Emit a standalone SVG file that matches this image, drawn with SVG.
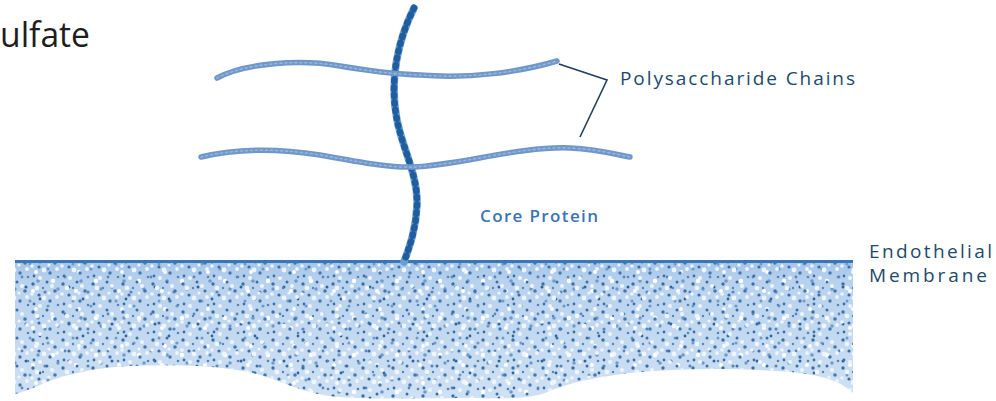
<svg xmlns="http://www.w3.org/2000/svg" width="996" height="401" viewBox="0 0 996 401">
  <style>
    .chain { fill: none; stroke: #7097c9; stroke-width: 5.5; stroke-linecap: round; stroke-linejoin: round; }
    .chain-hi { fill: none; stroke: #96b5dc; stroke-width: 1.6; stroke-dasharray: 2 3; stroke-linecap: round; }
    .label { font-family: "Open Sans", "Liberation Sans", sans-serif; fill: #1d4a6c; font-size: 19px; }
    .leader { fill: none; stroke: #22405c; stroke-width: 1.6; stroke-linejoin: miter; }
  </style>
  <defs>
    <!-- fine speckle of the membrane body -->
    <pattern id="speckA" patternUnits="userSpaceOnUse" width="30" height="28">
      <circle cx="7" cy="8" r="2.3" fill="#eef5fc"/>
      <circle cx="22" cy="6" r="2.0" fill="#eef5fc"/>
      <circle cx="14" cy="18" r="2.4" fill="#eef5fc"/>
      <circle cx="27" cy="17" r="1.9" fill="#eef5fc"/>
      <circle cx="2" cy="14" r="1.8" fill="#eef5fc"/>
      <circle cx="10" cy="26" r="2.0" fill="#eef5fc"/>
      <circle cx="19" cy="13" r="1.6" fill="#eef5fc"/>
      <circle cx="3" cy="4" r="1.7" fill="#3c6fa6"/>
      <circle cx="17" cy="2" r="1.5" fill="#3c6fa6"/>
      <circle cx="25" cy="11" r="1.8" fill="#4677ad"/>
      <circle cx="9" cy="15" r="1.6" fill="#3c6fa6"/>
      <circle cx="20" cy="21" r="1.7" fill="#4677ad"/>
      <circle cx="4" cy="24" r="1.4" fill="#3c6fa6"/>
      <circle cx="13" cy="8" r="1.2" fill="#5584b8"/>
      <circle cx="28" cy="25" r="1.3" fill="#5584b8"/>
    </pattern>
    <pattern id="speckB" patternUnits="userSpaceOnUse" width="43" height="37">
      <circle cx="5" cy="10" r="1.6" fill="#6f9bcb"/>
      <circle cx="15" cy="30" r="1.7" fill="#6f9bcb"/>
      <circle cx="30" cy="5" r="1.5" fill="#6f9bcb"/>
      <circle cx="38" cy="22" r="1.8" fill="#6f9bcb"/>
      <circle cx="22" cy="18" r="1.4" fill="#5a88bb"/>
      <circle cx="10" cy="22" r="2.2" fill="#ffffff"/>
      <circle cx="33" cy="32" r="2.0" fill="#ffffff"/>
      <circle cx="36" cy="13" r="1.9" fill="#ffffff"/>
      <circle cx="26" cy="28" r="1.5" fill="#2f639b"/>
      <circle cx="40" cy="3" r="1.4" fill="#2f639b"/>
      <circle cx="2" cy="33" r="1.6" fill="#5a88bb"/>
    </pattern>
    <linearGradient id="membraneFill" x1="0" y1="0" x2="0" y2="1">
      <stop offset="0" stop-color="#a6c5ea"/>
      <stop offset="0.15" stop-color="#b8d2ee"/>
      <stop offset="1" stop-color="#cfe1f3"/>
    </linearGradient>
    <path id="membraneShape" d="M15,262 L853,262 L853,393 C840,380 820,375 790,372 C740,368 690,368 640,372 C600,376 570,382 545,393 C530,398 510,399 480,398 C420,398 360,400 330,396 C300,392 285,382 260,375 C230,366 180,364 130,366 C90,368 60,376 40,385 C28,390 20,393 15,394 Z"/>
    <clipPath id="membraneClip"><use href="#membraneShape"/></clipPath>
  </defs>

  <!-- title fragment at the top-left edge -->
  <text id="title" x="0" y="47" font-family="'Open Sans', 'Liberation Sans', sans-serif" font-size="34" fill="#1e1e1e" textLength="90" lengthAdjust="spacingAndGlyphs">ulfate</text>

  <!-- endothelial membrane -->
  <g id="membrane">
    <use href="#membraneShape" fill="url(#membraneFill)"/>
    <g clip-path="url(#membraneClip)">
      <rect x="15" y="262" width="838" height="140" fill="url(#speckB)"/>
      <rect x="15" y="262" width="838" height="140" fill="url(#speckA)"/>
    </g>
    <line x1="15" y1="261.5" x2="853" y2="261.5" stroke="#3a77b6" stroke-width="3"/>
  </g>

  <!-- core protein rising from the membrane -->
  <g id="core-protein">
    <path d="M414,8 C398,40 389,80 397,120 C403,150 418,175 417,205 C416,230 409,248 404,262" fill="none" stroke="#6a9fd3" stroke-width="7.5" stroke-linecap="round"/>
    <path d="M414,8 C398,40 389,80 397,120 C403,150 418,175 417,205 C416,230 409,248 404,262" fill="none" stroke="#1f5d9e" stroke-width="6.5" stroke-linecap="round" stroke-dasharray="1.5 6"/>
  </g>

  <!-- polysaccharide chains -->
  <g id="chain-upper">
    <path class="chain" d="M217,78 C245,63 300,59 340,66 C370,71 390,74 420,75 C470,79 520,72 557,61"/>
    <path class="chain-hi" d="M217,78 C245,63 300,59 340,66 C370,71 390,74 420,75 C470,79 520,72 557,61"/>
  </g>
  <g id="chain-lower">
    <path class="chain" d="M201,157 C230,150 270,147 320,155 C360,162 390,168 413,167 C460,165 520,146 570,148 C595,149 615,154 630,157"/>
    <path class="chain-hi" d="M201,157 C230,150 270,147 320,155 C360,162 390,168 413,167 C460,165 520,146 570,148 C595,149 615,154 630,157"/>
  </g>

  <!-- label leader -->
  <g id="connectors">
    <polyline class="leader" points="559,64 607,80 580,137"/>
  </g>

  <g id="label-chains">
    <text class="label" x="620" y="85" textLength="235" lengthAdjust="spacing">Polysaccharide Chains</text>
  </g>
  <g id="label-core">
    <text x="480" y="222" font-family="'Open Sans', 'Liberation Sans', sans-serif" font-size="17" font-weight="600" fill="#3a74b4" textLength="118" lengthAdjust="spacing">Core Protein</text>
  </g>
  <g id="label-membrane">
    <text class="label" x="869" y="258" font-size="17" textLength="123" lengthAdjust="spacing">Endothelial</text>
    <text class="label" x="869" y="282" font-size="17" textLength="118" lengthAdjust="spacing">Membrane</text>
  </g>
</svg>
